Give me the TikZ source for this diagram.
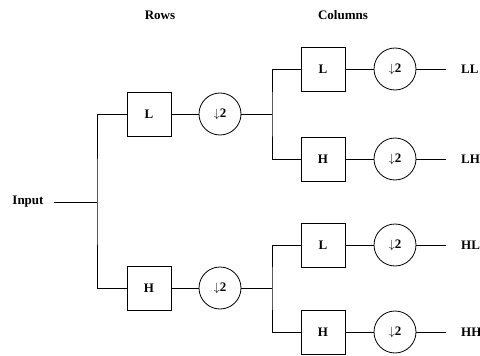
\documentclass[tikz,border=0pt]{standalone}
\usepackage{fontspec}
\setmainfont{Liberation Serif}
\begin{document}
\begin{tikzpicture}[x=1pt,y=-1pt,
  every node/.style={font=\fontsize{13}{15}\selectfont\bfseries},
  filt/.style={draw,line width=0.8pt,minimum width=44pt,minimum height=44pt,inner sep=0pt},
  down/.style={draw,circle,line width=0.8pt,minimum size=42pt,inner sep=0pt},
  wire/.style={line width=0.8pt}]
\useasboundingbox (0,0) rectangle (480,356);
\node (rows) at (160,15) {Rows};
\node (cols) at (343,15) {Columns};
\node (in) at (28,202) {Input};
\coordinate (sp) at (97,202);
\node[filt] (rL) at (149,114) {L};
\node[filt] (rH) at (149,288) {H};
\node[down] (rdL) at (220,114) {$\downarrow$2};
\node[down] (rdH) at (220,288) {$\downarrow$2};
\coordinate (s1) at (272,114);
\coordinate (s2) at (272,288);
\node[filt] (cLL) at (323,69) {L};
\node[filt] (cLH) at (323,159) {H};
\node[filt] (cHL) at (323,245) {L};
\node[filt] (cHH) at (323,332) {H};
\node[down] (dLL) at (395,69) {$\downarrow$2};
\node[down] (dLH) at (395,159) {$\downarrow$2};
\node[down] (dHL) at (395,245) {$\downarrow$2};
\node[down] (dHH) at (395,332) {$\downarrow$2};
\node[anchor=west,inner sep=0pt] (oLL) at (461,69) {LL};
\node[anchor=west,inner sep=0pt] (oLH) at (461,159) {LH};
\node[anchor=west,inner sep=0pt] (oHL) at (461,245) {HL};
\node[anchor=west,inner sep=0pt] (oHH) at (461,332) {HH};
\draw[wire] (54,202) -- (sp);
\draw[wire] (rL.west) -| (sp) |- (rH.west);
\draw[wire] (rL) -- (rdL);
\draw[wire] (rH) -- (rdH);
\draw[wire] (rdL) -- (s1);
\draw[wire] (rdH) -- (s2);
\draw[wire] (cLL.west) -| (s1) |- (cLH.west);
\draw[wire] (cHL.west) -| (s2) |- (cHH.west);
\foreach \a in {LL,LH,HL,HH}{
  \draw[wire] (c\a) -- (d\a);
  \draw[wire] (d\a.east) -- ++(30,0);
}
\end{tikzpicture}
\end{document}
